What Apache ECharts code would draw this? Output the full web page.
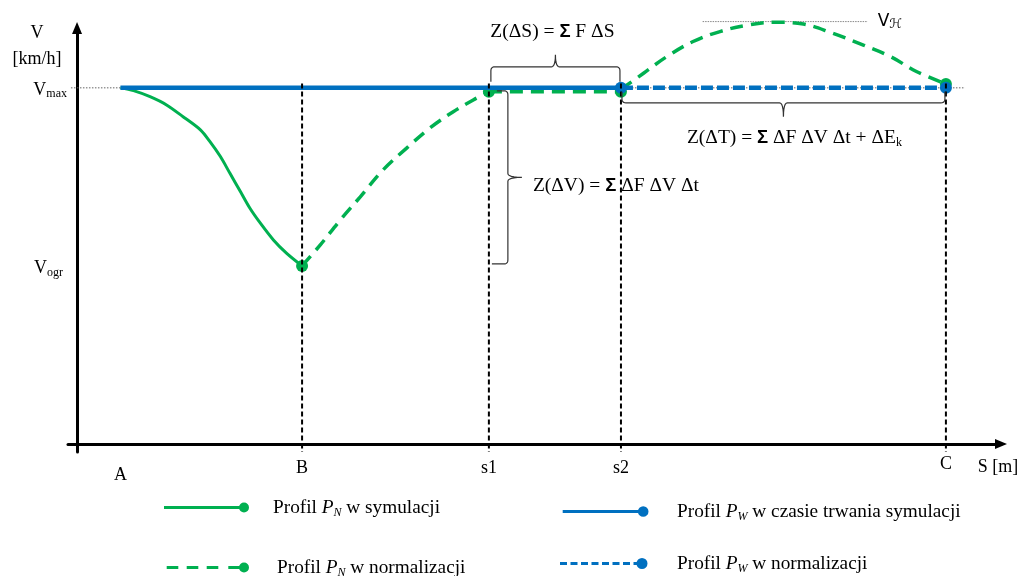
<!DOCTYPE html>
<html><head><meta charset="utf-8">
<script src="https://cdn.jsdelivr.net/npm/echarts@6/dist/echarts.min.js"></script>
<style>html,body{margin:0;padding:0;background:#fff}#c{width:1021px;height:576px}</style>
</head><body><div id="c"></div>
<script>
// ---- data (schematic units: S with C = 100, V with Vmax = 100) ----
const pointLabels = ['A', 'B', 's1', 's2', 'C'];
const pointS = [5.0, 25.9, 47.4, 62.6, 100];
const V_MAX = 100, V_OGR = 50, V_H = 118.6;
const X_MIN = -1.04, X_MAX = 106.34, Y_MIN = -2.25, Y_MAX = 116.8;

const pnSimS = [5.0, 6.5, 8.4, 10.3, 12.2, 14.2, 15.3, 16.5, 17.6, 18.8, 19.9, 21.1, 22.6, 24.1, 25.9];
const pnSimV = [100, 99.2, 97.5, 95.2, 91.9, 88.2, 84.9, 80.7, 76.0, 70.9, 66.2, 62.0, 57.3, 53.6, 50];

const pnRiseS = [25.9, 28.0, 30.3, 32.6, 35.2, 37.9, 40.6, 43.3, 45.6, 47.4];
const pnRiseV = [50, 55.9, 62.9, 69.4, 76.9, 83.0, 88.7, 93.3, 96.6, 98.9];
const pnFlatS = [47.4, 62.6];
const pnFlatV = [98.9, 98.9];
const pnArcS = [62.6, 65.2, 67.9, 70.9, 74.0, 77.4, 80.5, 83.6, 87.0, 90.5, 93.6, 96.6, 100];
const pnArcV = [99.6, 104.1, 108.8, 113.0, 115.8, 117.7, 118.4, 117.9, 115.3, 112.0, 108.8, 104.6, 101.1];

const pwSimS = [5.0, 62.6], pwSimV = [100, 100];
const pwNormS = [62.6, 100], pwNormV = [100, 100];

const vHLineS = [72.0, 91.0];
const vMaxLineS = [-0.7, 102.2];

const seriesNames = [
  'Profil PN w symulacji',
  'Profil PW w czasie trwania symulacji',
  'Profil PN w normalizacji',
  'Profil PW w normalizacji'
];
const legendTexts = [
  '{t|Profil }{i|P}{sub|N}{t| w symulacji}',
  '{t|Profil }{i|P}{sub|W}{t| w czasie trwania symulacji}',
  '{t|Profil }{i|P}{sub|N}{t| w normalizacji}',
  '{t|Profil }{i|P}{sub|W}{t| w normalizacji}'
];

// ---- styling ----
const SERIF = 'Liberation Serif';
const GREEN = '#00b050', BLUE = '#0070c0';
const zip = (a, b) => a.map((x, i) => [x, b[i]]);

function lineSeries(name, S, V, color, width, type, dots, smooth, z) {
  return {
    type: 'line', name, data: zip(S, V), smooth, symbol: 'circle',
    symbolSize: (v, p) => dots.includes(p.dataIndex) ? 12 : 0,
    showAllSymbol: true, clip: false, silent: true, z,
    lineStyle: { color, width, type }, itemStyle: { color },
    emphasis: { disabled: true }
  };
}

function rectPath(x1, x2, y1, y2) { return `M${x1},${y1}L${x2},${y1}L${x2},${y2}L${x1},${y2}Z`; }
function circlePath(cx, cy, r) { return `M${cx - r},${cy}A${r},${r} 0 1,1 ${cx + r},${cy}A${r},${r} 0 1,1 ${cx - r},${cy}Z`; }
function iconPath(dashes, end, r, th) {
  const y1 = r - th / 2, y2 = r + th / 2;
  return 'path://' + dashes.map(d => rectPath(d[0], d[1], y1, y2)).join('') + circlePath(end, r, r);
}
const iconGreenSolid = iconPath([[0, 80]], 80, 5, 2.8);
const iconGreenDash = iconPath([[0, 11.6], [20, 31.6], [40, 51.6], [61.6, 77.3]], 77.3, 5, 2.8);
const iconBlueSolid = iconPath([[0, 80.5]], 80.5, 5.3, 3);
const iconBlueDash = iconPath([[0, 7], [10.5, 17.5], [21, 28], [31.5, 38.5], [42, 49], [52.5, 59.5], [63, 70], [73.5, 82]], 82, 5.5, 3);

const LFS = 19.3;
const legendRich = {
  t: { fontFamily: SERIF, fontSize: LFS, color: '#000', lineHeight: 22 },
  i: { fontFamily: SERIF, fontSize: LFS, fontStyle: 'italic', color: '#000', lineHeight: 22 },
  sub: { fontFamily: SERIF, fontSize: 12, fontStyle: 'italic', color: '#000', lineHeight: 13, verticalAlign: 'bottom' }
};
function legendOf(idx, icon, color, left, top, w, h, pad) {
  return {
    data: [{ name: seriesNames[idx], icon, itemStyle: { color, borderWidth: 0 } }],
    left, top, padding: 0, itemWidth: w, itemHeight: h, symbolKeepAspect: false,
    selectedMode: false,
    formatter: () => legendTexts[idx],
    textStyle: { padding: [0, 0, 0, pad], rich: legendRich }
  };
}

const axisLineStyle = { show: true, onZero: true, symbol: ['none', 'triangle'], symbolSize: [10, 12], lineStyle: { color: '#000', width: 3 } };

const series = [
  { type: 'line', name: 'vmaxRef', data: zip(vMaxLineS, [V_MAX, V_MAX]), symbol: 'none', silent: true, z: 1, clip: false,
    lineStyle: { color: '#666', width: 1, type: [1.5, 1.5] } },
  { type: 'line', name: 'vhRef', data: zip(vHLineS, [V_H, V_H]), symbol: 'none', silent: true, z: 1, clip: false,
    lineStyle: { color: '#888', width: 1, type: [1.5, 1] },
    endLabel: { show: true, distance: 10, formatter: '{v|V}{h|ℋ}',
      rich: { v: { fontFamily: 'DejaVu Sans', fontSize: 17, color: '#000', lineHeight: 20 },
              h: { fontFamily: 'DejaVu Sans', fontSize: 13, fontStyle: 'italic', color: '#000', lineHeight: 15, verticalAlign: 'bottom' } } } },
  lineSeries(seriesNames[0], pnSimS, pnSimV, GREEN, 3, 'solid', [pnSimS.length - 1], 0.3, 2),
  lineSeries(seriesNames[2], pnRiseS, pnRiseV, GREEN, 3.5, [13, 8], [], 0.35, 2),
  lineSeries(seriesNames[2], pnFlatS, pnFlatV, GREEN, 3.5, [13, 8], [0, 1], false, 2),
  lineSeries(seriesNames[2], pnArcS, pnArcV, GREEN, 3.5, [13, 8], [pnArcS.length - 1], 0.4, 2),
  lineSeries(seriesNames[1], pwSimS, pwSimV, BLUE, 4.5, 'solid', [1], false, 3),
  lineSeries(seriesNames[3], pwNormS, pwNormV, BLUE, 4.5, [12, 4], [1], false, 3)
];
// vertical dashed guides at B, s1, s2, C
for (let k = 1; k < pointS.length; k++) {
  series.push({ type: 'line', name: 'guide' + k, data: [[pointS[k], V_MAX + 1.2], [pointS[k], Y_MIN]], symbol: 'none',
    silent: true, z: 5, clip: false, lineStyle: { color: '#000', width: 2, type: [5, 3] } });
}

const option = {
  animation: false,
  backgroundColor: '#fff',
  grid: { left: 68, right: 20, top: 28, bottom: 124, containLabel: false },
  xAxis: {
    type: 'value', min: X_MIN, max: X_MAX, axisLine: axisLineStyle,
    axisTick: { show: false }, splitLine: { show: false },
    axisLabel: {
      customValues: pointS, margin: 6, fontFamily: SERIF, fontSize: 18, color: '#000', lineHeight: 20,
      formatter: v => {
        const i = pointS.indexOf(v); const t = pointLabels[i];
        if (i === 0) return '{a|' + t + '}';
        if (i === pointS.length - 1) return '{c|' + t + '}';
        return t;
      },
      rich: { a: { fontFamily: SERIF, fontSize: 18, color: '#000', lineHeight: 20, padding: [15, 0, 0, 0] },
              c: { fontFamily: SERIF, fontSize: 18, color: '#000', lineHeight: 12 } }
    }
  },
  yAxis: {
    type: 'value', min: Y_MIN, max: Y_MAX, axisLine: axisLineStyle,
    axisTick: { show: false }, splitLine: { show: false },
    axisLabel: {
      customValues: [V_OGR, V_MAX], margin: 1, color: '#000', padding: [5, 0, 0, 0],
      formatter: v => v === V_MAX ? '{v|V}{s|max}' : '{v|V}{so|ogr}',
      rich: {
        v: { fontFamily: SERIF, fontSize: 18, color: '#000', lineHeight: 20 },
        s: { fontFamily: SERIF, fontSize: 12, color: '#000', lineHeight: 12, verticalAlign: 'bottom' },
        so: { fontFamily: SERIF, fontSize: 12, color: '#000', lineHeight: 12, verticalAlign: 'bottom', padding: [0, 4, 0, 0] }
      }
    }
  },
  legend: [
    legendOf(0, iconGreenSolid, GREEN, 164, 498, 85, 10, 19),
    legendOf(1, iconBlueSolid, BLUE, 562.7, 502, 85.8, 10.6, 23.5),
    legendOf(2, iconGreenDash, GREEN, 166.7, 558, 82.3, 10, 23),
    legendOf(3, iconBlueDash, BLUE, 560, 554, 87.5, 11, 24.5)
  ],
  series
};

const chart = echarts.init(document.getElementById('c'));
chart.setOption(option);

// ---- annotations (braces and formulas), positioned from data via the axes ----
const px = (s, v) => chart.convertToPixel({ gridIndex: 0 }, [s, v]);
const pS1 = px(pointS[2], V_MAX), pS2 = px(pointS[3], V_MAX), pC = px(pointS[4], V_MAX);
const pOgr = px(pointS[2], V_OGR), pOrigin = px(0, 0), pTop = px(0, Y_MAX), pEnd = px(X_MAX, 0);

// build polylines from line/quadratic segments
function PathBuilder(x, y) { this.pts = [[x, y]]; }
PathBuilder.prototype.L = function (x, y) { this.pts.push([x, y]); return this; };
PathBuilder.prototype.Q = function (cx, cy, x, y) {
  const p0 = this.pts[this.pts.length - 1];
  for (let i = 1; i <= 6; i++) {
    const t = i / 6, u = 1 - t;
    this.pts.push([u * u * p0[0] + 2 * u * t * cx + t * t * x, u * u * p0[1] + 2 * u * t * cy + t * t * y]);
  }
  return this;
};
function hBrace(x1, x2, y0, yb, yt) {
  const e = Math.sign(y0 - yb), r = 4, xm = (x1 + x2) / 2;
  return new PathBuilder(x1, y0).L(x1, yb + e * r).Q(x1, yb, x1 + r, yb).L(xm - r, yb).Q(xm, yb, xm, yt)
    .Q(xm, yb, xm + r, yb).L(x2 - r, yb).Q(x2, yb, x2, yb + e * r).L(x2, y0).pts;
}
function vBrace(y1, y2, x0top, x0bot, xb, xt) {
  const r = 4, ym = (y1 + y2) / 2;
  return new PathBuilder(x0top, y1).L(xb - r, y1).Q(xb, y1, xb, y1 + r).L(xb, ym - r).Q(xb, ym, xt, ym)
    .Q(xb, ym, xb, ym + r).L(xb, y2 - r).Q(xb, y2, xb - r, y2).L(x0bot, y2).pts;
}
const braceStyle = { stroke: '#333', lineWidth: 1.2, fill: null };
const fRich = {
  n: { fontFamily: SERIF, fontSize: 19.5, color: '#000', lineHeight: 22 },
  b: { fontFamily: 'Liberation Sans', fontWeight: 'bold', fontSize: 18.5, color: '#000', lineHeight: 22 },
  s: { fontFamily: SERIF, fontSize: 12, color: '#000', lineHeight: 14, verticalAlign: 'bottom' }
};
const ySYb = pS1[1] - 21, ySTip = ySYb - 12, xSM = (pS1[0] + 2 + pS2[0] - 1) / 2;
const yTYb = pC[1] + 15, yTTip = yTYb + 14, xTM = (pS2[0] + 1 + pC[0] - 1) / 2;
const xVb = pS1[0] + 19, yV1 = pS1[1] + 3, yV2 = pOgr[1] - 2, yVm = (yV1 + yV2) / 2;

chart.setOption({
  graphic: [
    { type: 'polyline', shape: { points: hBrace(pS1[0] + 2, pS2[0] - 1, pS1[1] - 6, ySYb, ySTip) }, style: braceStyle, z: 10, silent: true },
    { type: 'polyline', shape: { points: hBrace(pS2[0] + 1, pC[0] - 1, pC[1] + 4, yTYb, yTTip) }, style: braceStyle, z: 10, silent: true },
    { type: 'polyline', shape: { points: vBrace(yV1, yV2, xVb - 11, xVb - 16, xVb, xVb + 14) }, style: braceStyle, z: 10, silent: true },
    { type: 'text', x: xSM - 3, y: ySTip - 23, silent: true, z: 10,
      style: { text: '{n|Z(ΔS) = }{b|Σ}{n| F ΔS}', rich: fRich, align: 'center', verticalAlign: 'middle' } },
    { type: 'text', x: xTM + 11, y: yTTip + 21, silent: true, z: 10,
      style: { text: '{n|Z(ΔT) = }{b|Σ}{n| ΔF ΔV Δt + ΔE}{s|k}', rich: fRich, align: 'center', verticalAlign: 'middle' } },
    { type: 'text', x: xVb + 25, y: yVm + 9, silent: true, z: 10,
      style: { text: '{n|Z(ΔV) = }{b|Σ}{n| ΔF ΔV Δt}', rich: fRich, align: 'left', verticalAlign: 'middle' } },
    { type: 'text', x: pOrigin[0] - 40, y: pTop[1] + 5, silent: true,
      style: { text: 'V', font: '18px "Liberation Serif"', fill: '#000', align: 'center', verticalAlign: 'middle' } },
    { type: 'text', x: pOrigin[0] - 40, y: pTop[1] + 31, silent: true,
      style: { text: '[km/h]', font: '18px "Liberation Serif"', fill: '#000', align: 'center', verticalAlign: 'middle' } },
    { type: 'text', x: pEnd[0] - 3, y: pOrigin[1] + 23, silent: true,
      style: { text: 'S [m]', font: '18px "Liberation Serif"', fill: '#000', align: 'center', verticalAlign: 'middle' } }
  ]
});
</script>
</body></html>
